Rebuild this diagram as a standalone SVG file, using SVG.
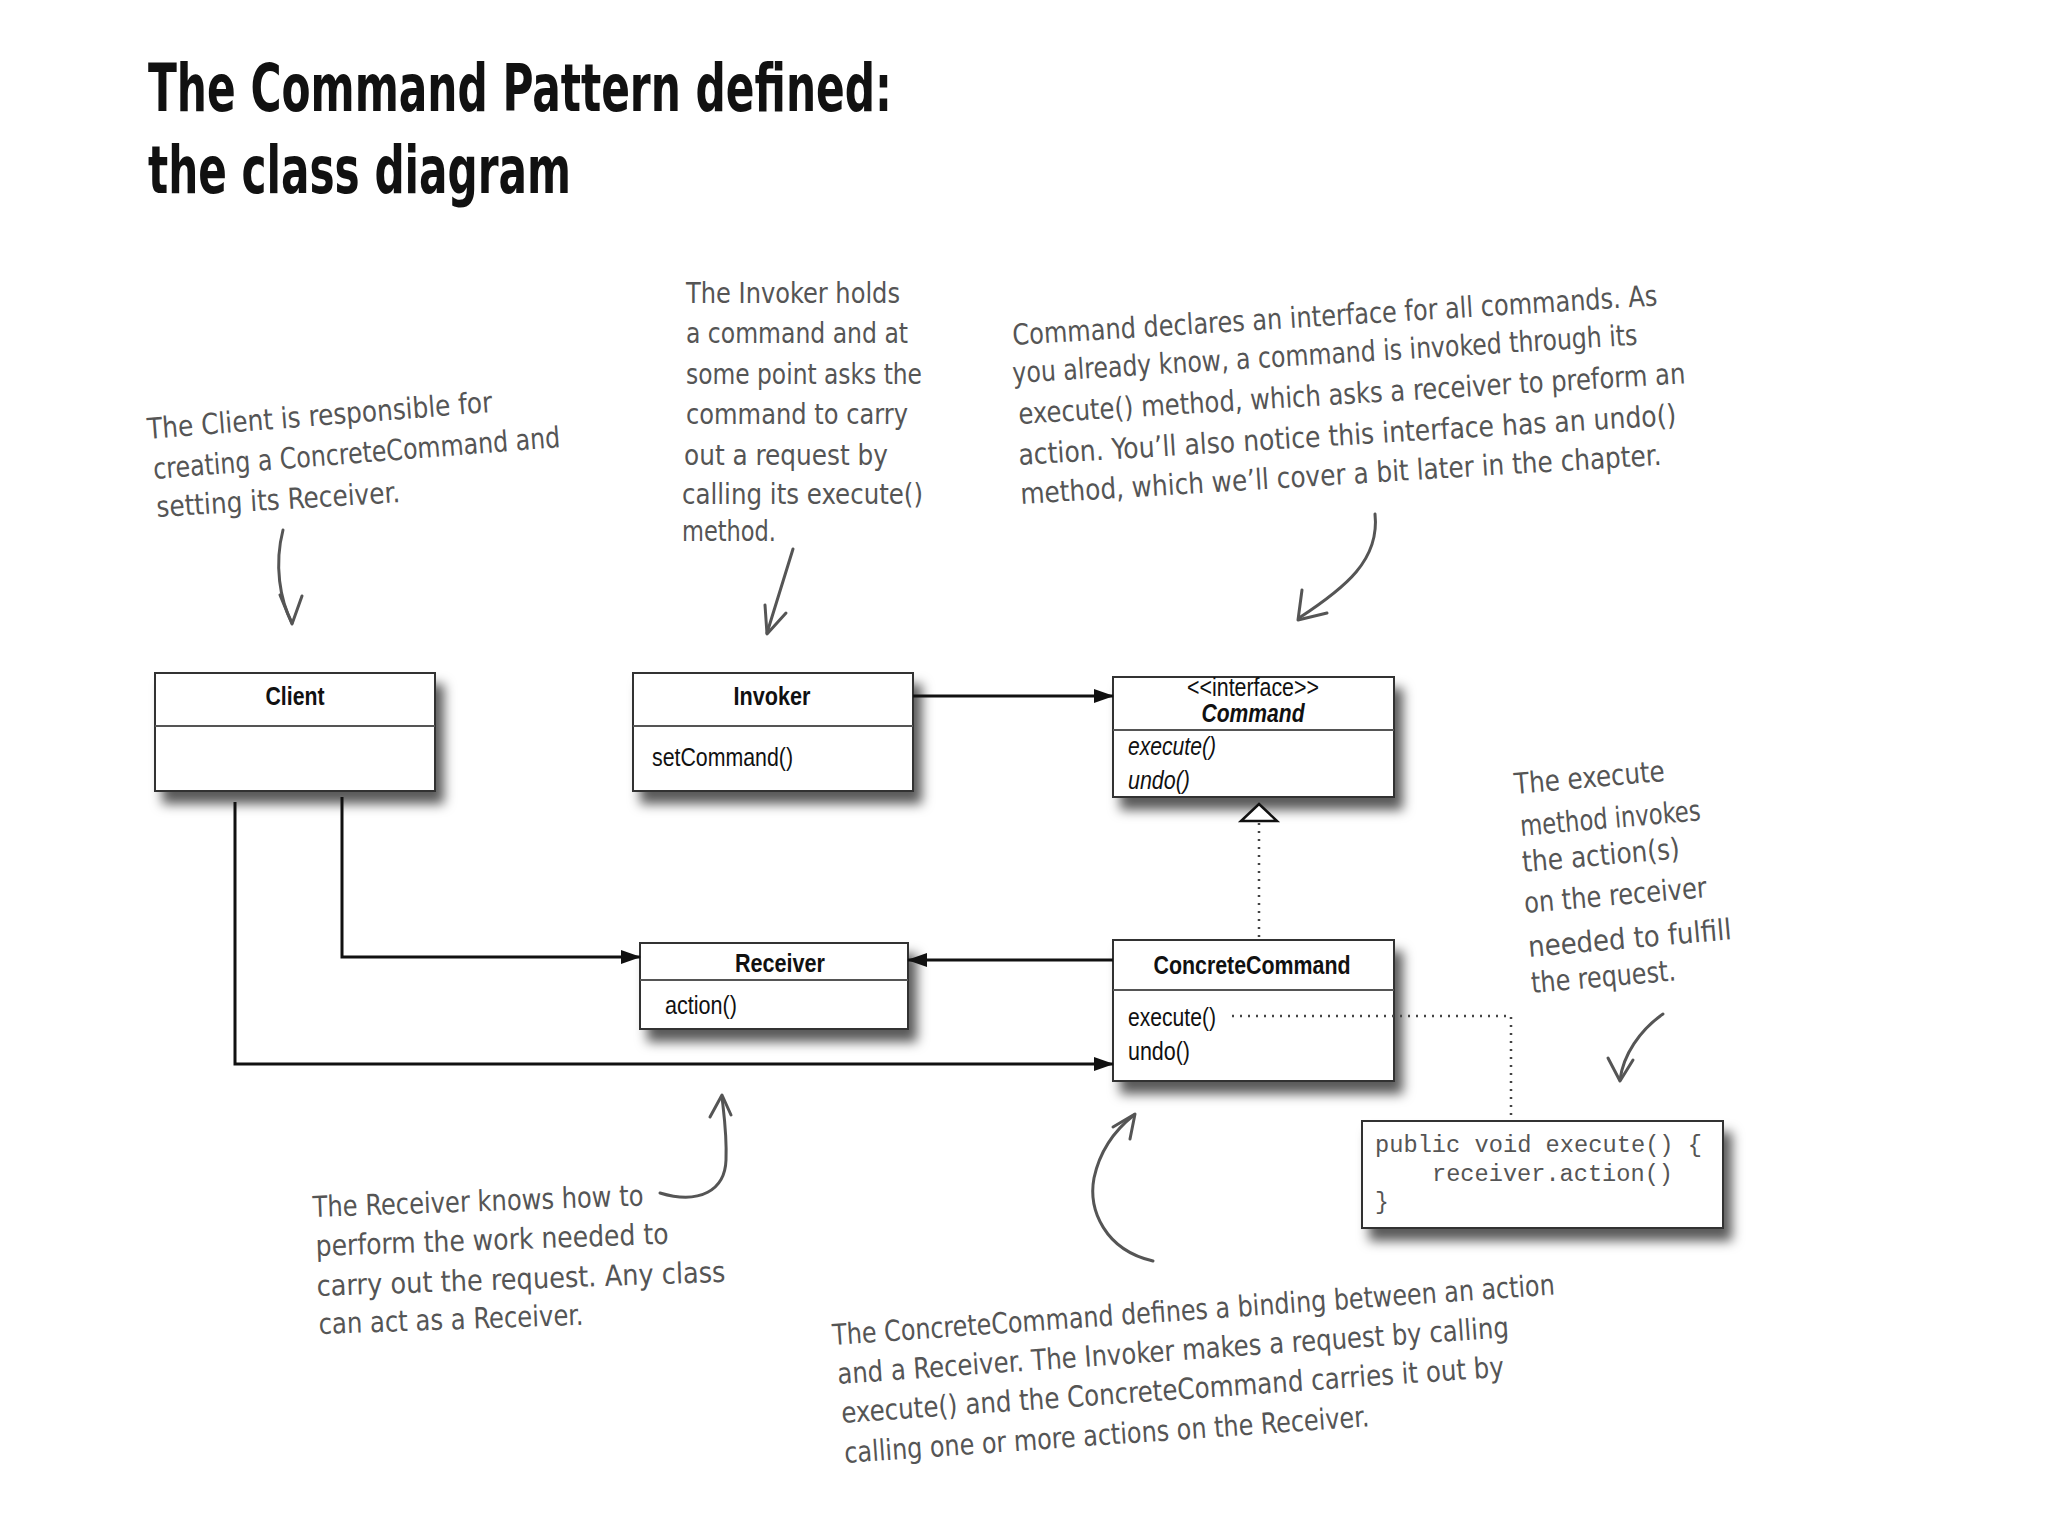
<svg xmlns="http://www.w3.org/2000/svg" width="2048" height="1536" viewBox="0 0 2048 1536">
<style>
.title{font-family:"DejaVu Sans Condensed","Liberation Sans",sans-serif;font-weight:bold;font-size:66px;fill:#111}
.note{font-family:"DejaVu Sans Condensed","Liberation Sans Narrow","Liberation Sans",sans-serif;font-size:29px;fill:#555}
.box{fill:#fff;stroke:#333;stroke-width:2}
.div{stroke:#555;stroke-width:2}
.cls{font-family:"Liberation Sans Narrow","Liberation Sans",Arial,sans-serif;font-size:26px;fill:#111}
.b{font-weight:bold}
.i{font-style:italic}
.code{font-family:"Liberation Mono","Courier New",monospace;font-size:23px;fill:#555}
.conn{fill:none;stroke:#111;stroke-width:3}
.dot{fill:none;stroke:#444;stroke-width:2.5;stroke-dasharray:2 6}
.hand{fill:none;stroke:#555;stroke-width:3;stroke-linecap:round;stroke-linejoin:round}
</style>
<defs>
<filter id="sh" x="-10%" y="-10%" width="130%" height="150%">
<feDropShadow dx="8" dy="12" stdDeviation="6" flood-color="#000" flood-opacity="0.65"/>
</filter>
<marker id="arr" markerWidth="20" markerHeight="14" refX="19" refY="7" orient="auto" markerUnits="userSpaceOnUse">
<path d="M0,0 L20,7 L0,14 z" fill="#111"/>
</marker>
</defs>
<rect width="2048" height="1536" fill="#fff"/>

<g id="title">
<text class="title" x="148" y="111" textLength="744" lengthAdjust="spacingAndGlyphs">The Command Pattern defined:</text>
<text class="title" x="148" y="193" textLength="423" lengthAdjust="spacingAndGlyphs">the class diagram</text>
</g>

<g id="client">
<rect class="box" x="155" y="673" width="280" height="118" filter="url(#sh)"/>
<line class="div" x1="155" y1="726" x2="435" y2="726"/>
<text class="cls b" x="295" y="705" text-anchor="middle" textLength="59" lengthAdjust="spacingAndGlyphs">Client</text>
</g>

<g id="invoker">
<rect class="box" x="633" y="673" width="280" height="118" filter="url(#sh)"/>
<line class="div" x1="633" y1="726" x2="913" y2="726"/>
<text class="cls b" x="772" y="705" text-anchor="middle" textLength="77" lengthAdjust="spacingAndGlyphs">Invoker</text>
<text class="cls" x="652" y="766" textLength="141" lengthAdjust="spacingAndGlyphs">setCommand()</text>
</g>

<g id="command">
<rect class="box" x="1113" y="677" width="281" height="120" filter="url(#sh)"/>
<line class="div" x1="1113" y1="730" x2="1394" y2="730"/>
<text class="cls" x="1253" y="696" text-anchor="middle" textLength="132" lengthAdjust="spacingAndGlyphs">&lt;&lt;interface&gt;&gt;</text>
<text class="cls b i" x="1253" y="722" text-anchor="middle" textLength="103" lengthAdjust="spacingAndGlyphs">Command</text>
<text class="cls i" x="1128" y="755" textLength="88" lengthAdjust="spacingAndGlyphs">execute()</text>
<text class="cls i" x="1128" y="789" textLength="62" lengthAdjust="spacingAndGlyphs">undo()</text>
</g>

<g id="concretecommand">
<rect class="box" x="1113" y="940" width="281" height="141" filter="url(#sh)"/>
<line class="div" x1="1113" y1="990" x2="1394" y2="990"/>
<text class="cls b" x="1252" y="974" text-anchor="middle" textLength="197" lengthAdjust="spacingAndGlyphs">ConcreteCommand</text>
<text class="cls" x="1128" y="1026" textLength="88" lengthAdjust="spacingAndGlyphs">execute()</text>
<text class="cls" x="1128" y="1060" textLength="62" lengthAdjust="spacingAndGlyphs">undo()</text>
</g>

<g id="receiver">
<rect class="box" x="640" y="943" width="268" height="86" filter="url(#sh)"/>
<line class="div" x1="640" y1="980" x2="908" y2="980"/>
<text class="cls b" x="780" y="972" text-anchor="middle" textLength="90" lengthAdjust="spacingAndGlyphs">Receiver</text>
<text class="cls" x="665" y="1014" textLength="72" lengthAdjust="spacingAndGlyphs">action()</text>
</g>

<g id="code">
<rect class="box" x="1362" y="1121" width="361" height="107" filter="url(#sh)"/>
<text class="code" x="1375" y="1152" textLength="327" lengthAdjust="spacingAndGlyphs">public void execute() {</text>
<text class="code" x="1432" y="1181" textLength="241" lengthAdjust="spacingAndGlyphs">receiver.action()</text>
<text class="code" x="1375" y="1209">}</text>
</g>

<g id="connectors">
<path class="conn" d="M913,696 L1113,696" marker-end="url(#arr)"/>
<path class="conn" d="M342,797 L342,957 L640,957" marker-end="url(#arr)"/>
<path class="conn" d="M235,802 L235,1064 L1113,1064" marker-end="url(#arr)"/>
<path class="conn" d="M1113,960 L908,960" marker-end="url(#arr)"/>
<path class="dot" d="M1259,937 L1259,822"/>
<path d="M1259,804 L1277,821 L1241,821 z" fill="#fff" stroke="#111" stroke-width="2.5"/>
<path class="dot" d="M1232,1016 L1511,1016 L1511,1121"/>
</g>

<g id="note-client">
<text class="note" transform="rotate(-4.5 148 439)" x="148" y="439" textLength="346" lengthAdjust="spacingAndGlyphs">The Client is responsible for</text>
<text class="note" transform="rotate(-4.5 154 479)" x="154" y="479" textLength="408" lengthAdjust="spacingAndGlyphs">creating a ConcreteCommand and</text>
<text class="note" transform="rotate(-3.5 157 517)" x="157" y="517" textLength="244" lengthAdjust="spacingAndGlyphs">setting its Receiver.</text>
<path class="hand" d="M283,530 C274,565 280,600 292,623"/>
<path class="hand" d="M280,595 L292,624 L302,596"/>
</g>

<g id="note-invoker">
<text class="note" x="686" y="303" textLength="214" lengthAdjust="spacingAndGlyphs">The Invoker holds</text>
<text class="note" x="686" y="343" textLength="222" lengthAdjust="spacingAndGlyphs">a command and at</text>
<text class="note" x="686" y="384" textLength="236" lengthAdjust="spacingAndGlyphs">some point asks the</text>
<text class="note" x="686" y="424" textLength="222" lengthAdjust="spacingAndGlyphs">command to carry</text>
<text class="note" x="684" y="465" textLength="204" lengthAdjust="spacingAndGlyphs">out a request by</text>
<text class="note" x="682" y="504" textLength="241" lengthAdjust="spacingAndGlyphs">calling its execute()</text>
<text class="note" x="682" y="541" textLength="94" lengthAdjust="spacingAndGlyphs">method.</text>
<path class="hand" d="M793,549 L767,633"/>
<path class="hand" d="M765,605 L767,634 L786,613"/>
</g>

<g id="note-command">
<text class="note" transform="rotate(-3.5 1013 345)" x="1013" y="345" textLength="646" lengthAdjust="spacingAndGlyphs">Command declares an interface for all commands. As</text>
<text class="note" transform="rotate(-3.5 1013 383)" x="1013" y="383" textLength="626" lengthAdjust="spacingAndGlyphs">you already know, a command is invoked through its</text>
<text class="note" transform="rotate(-3.5 1019 424)" x="1019" y="424" textLength="668" lengthAdjust="spacingAndGlyphs">execute() method, which asks a receiver to preform an</text>
<text class="note" transform="rotate(-3.5 1019 465)" x="1019" y="465" textLength="659" lengthAdjust="spacingAndGlyphs">action.  You’ll also notice this interface has an undo()</text>
<text class="note" transform="rotate(-3.5 1021 504)" x="1021" y="504" textLength="642" lengthAdjust="spacingAndGlyphs">method, which we’ll cover a bit later in the chapter.</text>
<path class="hand" d="M1375,514 C1380,560 1345,588 1299,618"/>
<path class="hand" d="M1302,590 L1298,620 L1327,613"/>
</g>

<g id="note-execute">
<text class="note" transform="rotate(-5 1515 794)" x="1515" y="794" textLength="151" lengthAdjust="spacingAndGlyphs">The execute</text>
<text class="note" transform="rotate(-5 1521 836)" x="1521" y="836" textLength="181" lengthAdjust="spacingAndGlyphs">method invokes</text>
<text class="note" transform="rotate(-5 1523 872)" x="1523" y="872" textLength="158" lengthAdjust="spacingAndGlyphs">the action(s)</text>
<text class="note" transform="rotate(-5 1525 913)" x="1525" y="913" textLength="183" lengthAdjust="spacingAndGlyphs">on the receiver</text>
<text class="note" transform="rotate(-5 1529 957)" x="1529" y="957" textLength="204" lengthAdjust="spacingAndGlyphs">needed to fulfill</text>
<text class="note" transform="rotate(-5 1532 993)" x="1532" y="993" textLength="145" lengthAdjust="spacingAndGlyphs">the request.</text>
<path class="hand" d="M1663,1014 C1640,1030 1623,1055 1620,1080"/>
<path class="hand" d="M1608,1058 L1620,1081 L1633,1060"/>
</g>

<g id="note-receiver">
<text class="note" transform="rotate(-2 313 1217)" x="313" y="1217" textLength="331" lengthAdjust="spacingAndGlyphs">The Receiver knows how to</text>
<text class="note" transform="rotate(-2 316 1256)" x="316" y="1256" textLength="353" lengthAdjust="spacingAndGlyphs">perform the work needed to</text>
<text class="note" transform="rotate(-2 317 1296)" x="317" y="1296" textLength="409" lengthAdjust="spacingAndGlyphs">carry out the request.  Any class</text>
<text class="note" transform="rotate(-2 319 1334)" x="319" y="1334" textLength="265" lengthAdjust="spacingAndGlyphs">can act as a Receiver.</text>
<path class="hand" d="M660,1193 C700,1205 725,1190 726,1160 C727,1135 724,1115 722,1097"/>
<path class="hand" d="M710,1117 L722,1095 L731,1115"/>
</g>

<g id="note-concretecommand">
<text class="note" transform="rotate(-4 833 1345)" x="833" y="1345" textLength="724" lengthAdjust="spacingAndGlyphs">The ConcreteCommand defines a binding between an action</text>
<text class="note" transform="rotate(-4 838 1384)" x="838" y="1384" textLength="673" lengthAdjust="spacingAndGlyphs">and a Receiver.  The Invoker makes a request by calling</text>
<text class="note" transform="rotate(-4 842 1423)" x="842" y="1423" textLength="664" lengthAdjust="spacingAndGlyphs">execute() and the ConcreteCommand carries it out by</text>
<text class="note" transform="rotate(-4 845 1463)" x="845" y="1463" textLength="526" lengthAdjust="spacingAndGlyphs">calling one or more actions on the Receiver.</text>
<path class="hand" d="M1153,1261 C1105,1250 1088,1210 1094,1178 C1100,1150 1115,1130 1134,1115"/>
<path class="hand" d="M1113,1127 L1135,1114 L1130,1139"/>
</g>
</svg>
